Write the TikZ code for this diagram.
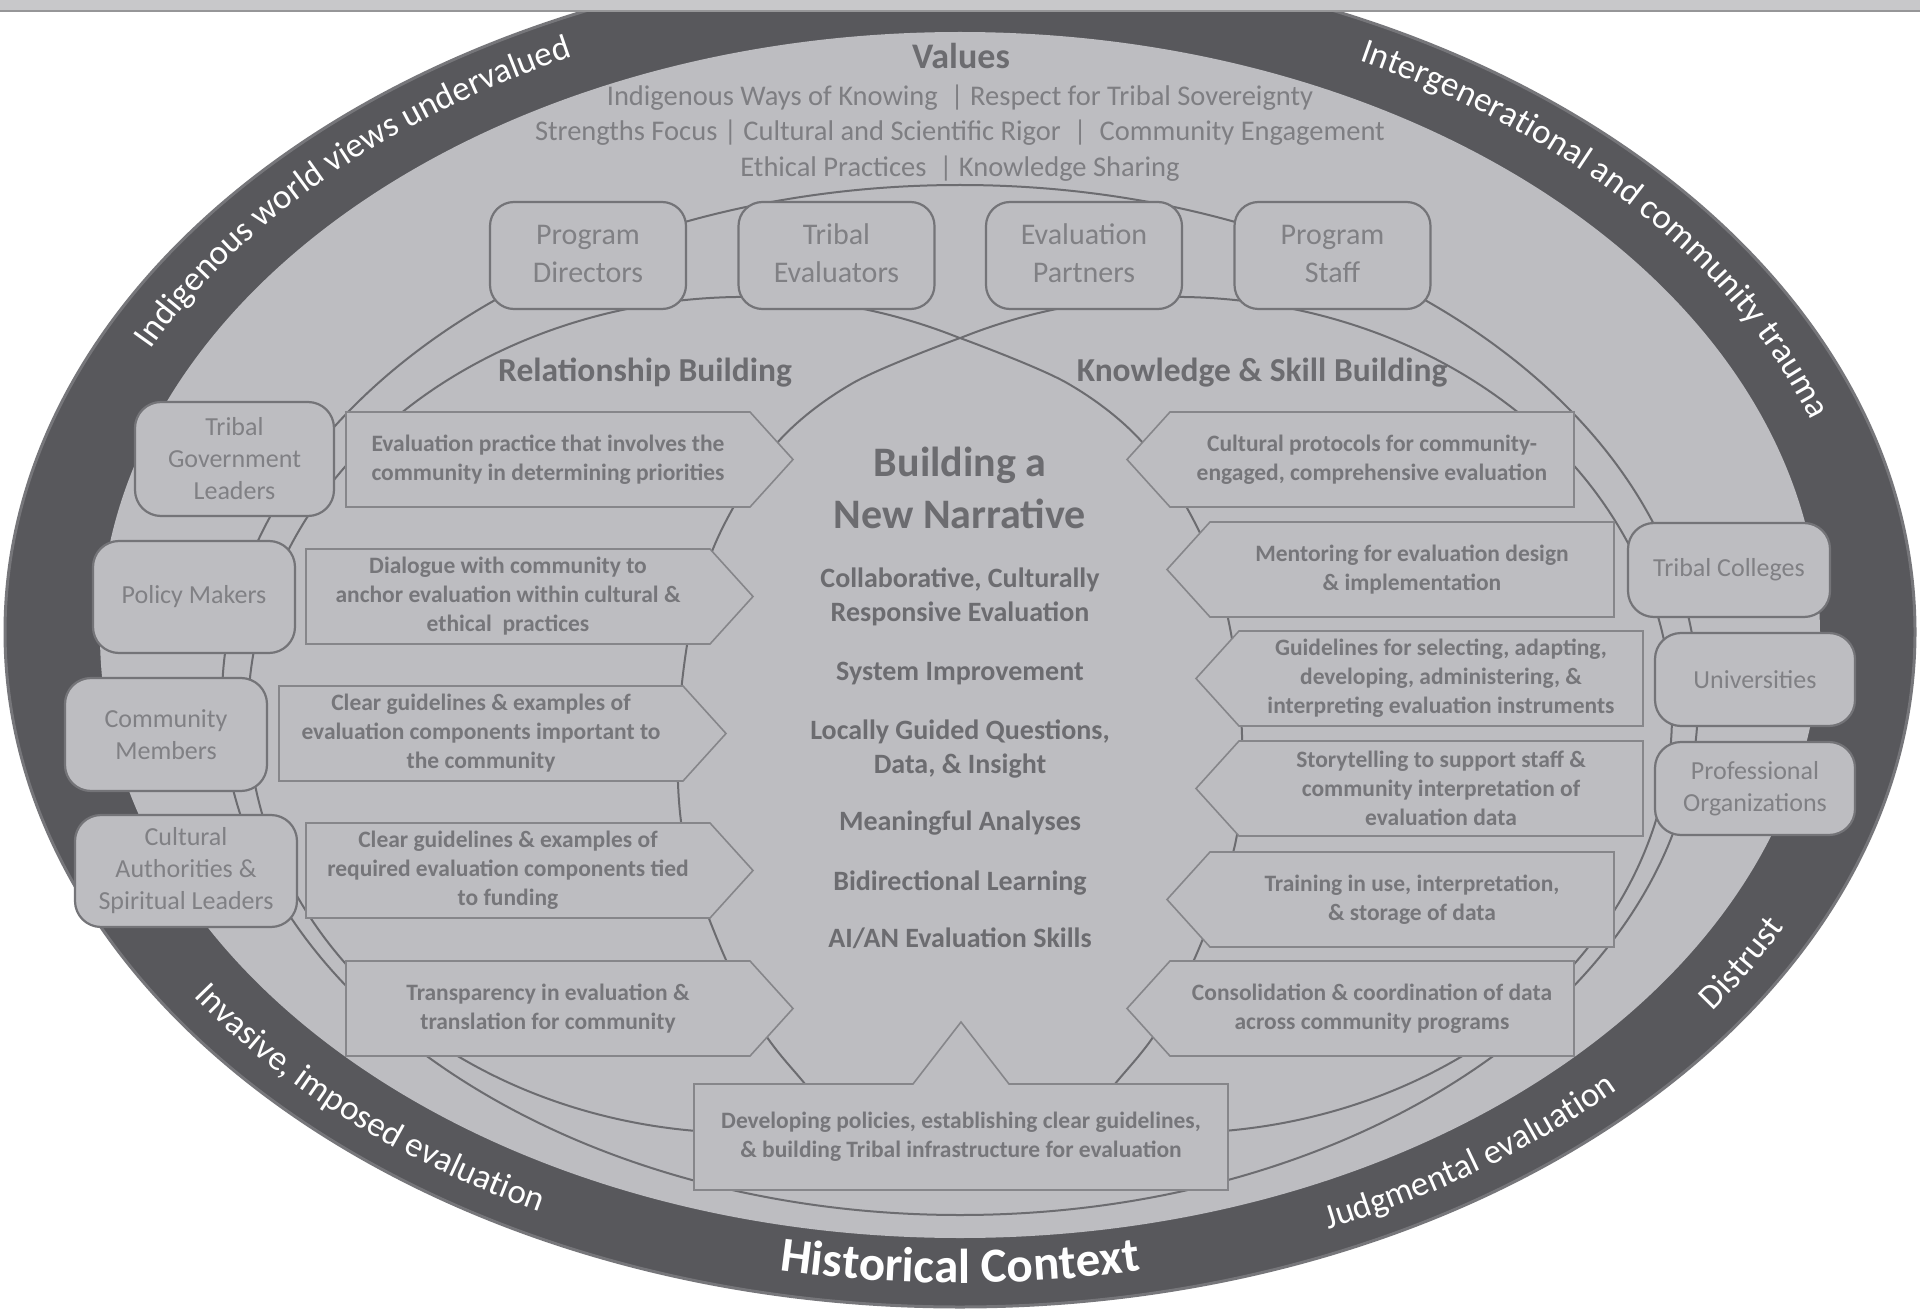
\documentclass[tikz,border=0pt]{standalone}
\usepackage{fontspec}
\setmainfont{Carlito}
\usetikzlibrary{decorations.text}
\definecolor{ringdark}{RGB}{88,88,92}
\definecolor{ringrim}{RGB}{118,118,122}
\definecolor{lightfill}{RGB}{189,189,193}
\definecolor{ringlinecol}{RGB}{108,108,112}
\definecolor{boxline}{RGB}{116,116,120}
\definecolor{aboxline}{RGB}{134,134,138}
\definecolor{stktext}{RGB}{128,128,132}
\definecolor{arrtext}{RGB}{118,118,122}
\definecolor{ctext}{RGB}{108,108,112}
\definecolor{valtext}{RGB}{126,126,130}
\definecolor{stripfill}{RGB}{200,200,202}
\definecolor{stripline}{RGB}{150,150,152}
\newcommand\ringfont{\fontsize{35}{42}\selectfont}
\newcommand\histfont{\fontsize{49}{56}\selectfont\bfseries}
\newcommand\stkfont{\fontsize{26}{32}\selectfont}
\newcommand\topstkfont{\fontsize{30}{38}\selectfont}
\newcommand\arrfont{\fontsize{23.5}{29}\selectfont\bfseries}
\newcommand\headfont{\fontsize{33.5}{40}\selectfont\bfseries}
\newcommand\bigfont{\fontsize{42}{52}\selectfont\bfseries}
\newcommand\itemfont{\fontsize{28}{34.5}\selectfont\bfseries}
\newcommand\valtitlefont{\fontsize{36}{42}\selectfont\bfseries}
\newcommand\valfont{\fontsize{28.5}{35}\selectfont}
\newcommand\boxRight[4]{%
  \draw[abox] (#2,#3) -- ++(404,0) -- ++(43,47.5) -- ++(-43,47.5) -- ++(-404,0) -- cycle;
  \node[atext] (#1) at (#2+202,#3+47.5) {#4};}
\newcommand\boxLeft[4]{%
  \draw[abox] (#2,#3+47.5) -- ++(43,-47.5) -- ++(404,0) -- ++(0,95) -- ++(-404,0) -- cycle;
  \node[atext] (#1) at (#2+245,#3+47.5) {#4};}
\begin{document}
\begin{tikzpicture}[x=1pt,y=-1pt,
  ringpath/.style={draw=ringlinecol, line width=2pt},
  stake/.style={draw=boxline, line width=2.2pt, fill=lightfill, rounded corners=26pt, align=center, text=stktext, font=\stkfont, inner sep=0pt},
  topstake/.style={stake, font=\topstkfont, rounded corners=24pt, minimum width=196pt, minimum height=107pt},
  abox/.style={draw=aboxline, line width=1.6pt, fill=lightfill, line join=miter},
  atext/.style={align=center, text=arrtext, font=\arrfont, inner sep=0pt},
  ctr/.style={anchor=base, text=ctext, inner sep=0pt}
]
\useasboundingbox (0,0) rectangle (1920,1313);
\fill[white] (0,0) rectangle (1920,1313);
% historical context ring
\draw[fill=ringdark, draw=ringrim, line width=3pt] (960,632) ellipse[x radius=955pt, y radius=675pt];
\fill[lightfill] (960,635) ellipse[x radius=860pt, y radius=603pt];
% texts on the ring
\path[decorate, decoration={text along path, text align=center, text color=white,
  text={|\ringfont|Indigenous world views undervalued}}]
  (960,633) ++(166.5:903pt and 638pt) arc[start angle=166.5, end angle=105.5, x radius=903pt, y radius=638pt];
\path[decorate, decoration={text along path, text align=center, text color=white,
  text={|\ringfont|Intergenerational and community trauma}}]
  (960,633) ++(72:903pt and 638pt) arc[start angle=72, end angle=8.6, x radius=903pt, y radius=638pt];
\path[decorate, decoration={text along path, text align=center, text color=white,
  text={|\ringfont|Invasive, imposed evaluation}}]
  (960,633) ++(203.5:925pt and 650pt) arc[start angle=203.5, end angle=251.5, x radius=925pt, y radius=650pt];
\path[decorate, decoration={text along path, text align=center, text color=white,
  text={|\histfont|Historical Context}}]
  (960,633) ++(250:925pt and 650pt) arc[start angle=250, end angle=290, x radius=925pt, y radius=650pt];
\path[decorate, decoration={text along path, text align=center, text color=white,
  text={|\ringfont|Judgmental evaluation}}]
  (960,633) ++(284.5:925pt and 650pt) arc[start angle=284.5, end angle=325.8, x radius=925pt, y radius=650pt];
\path[decorate, decoration={text along path, text align=center, text color=white,
  text={|\ringfont|Distrust}}]
  (960,633) ++(319:925pt and 650pt) arc[start angle=319, end angle=339, x radius=925pt, y radius=650pt];
% values
\node[anchor=base, text=ctext, font=\valtitlefont, inner sep=0pt] (valtitle) at (961,68.5) {Values};
\node[anchor=base, text=valtext, font=\valfont, inner sep=0pt] (val1) at (960,106) {Indigenous Ways of Knowing~ | Respect for Tribal Sovereignty};
\node[anchor=base, text=valtext, font=\valfont, inner sep=0pt] (val2) at (960,141) {Strengths Focus | Cultural and Scientific Rigor~ |~ Community Engagement};
\node[anchor=base, text=valtext, font=\valfont, inner sep=0pt] (val3) at (960,177) {Ethical Practices~ | Knowledge Sharing};
% ring lines
\draw[ringpath] (960,700) ellipse[x radius=738pt, y radius=515pt];
\draw[ringpath] (745,715) ++(64.4:497pt and 418pt) arc[start angle=64.4, end angle=265, x radius=497pt, y radius=418pt];
\draw[ringpath] (1175,715) ++(115.6:497pt and 418pt) arc[start angle=115.6, end angle=-85, x radius=497pt, y radius=418pt];
\draw[ringpath] plot[smooth, tension=0.55] coordinates {(960,338) (1067,383) (1143,443) (1200,533) (1229,623) (1242,735) (1236,840) (1200,946) (1157,1031) (1115,1084) (1100,1105)};
\draw[ringpath] plot[smooth, tension=0.55] coordinates {(960,338) (853,383) (777,443) (720,533) (691,623) (678,735) (684,840) (720,946) (763,1031) (805,1084) (820,1105)};
% headings
\node[anchor=base, text=ctext, font=\headfont, inner sep=0pt] (relb) at (645,382) {Relationship Building};
\node[anchor=base, text=ctext, font=\headfont, inner sep=0pt] (ksb) at (1262,382) {Knowledge \& Skill Building};
% arrow boxes, left
\boxRight{l1}{346}{412}{Evaluation practice that involves the\\community in determining priorities}
\boxRight{l2}{306}{549}{Dialogue with community to\\anchor evaluation within cultural \&\\ethical~ practices}
\boxRight{l3}{279}{686}{Clear guidelines \& examples of\\evaluation components important to\\the community}
\boxRight{l4}{306}{823}{Clear guidelines \& examples of\\required evaluation components tied\\to funding}
\boxRight{l5}{346}{961}{Transparency in evaluation \&\\translation for community}
% arrow boxes, right
\boxLeft{r1}{1127}{412}{Cultural protocols for community-\\engaged, comprehensive evaluation}
\boxLeft{r2}{1167}{522}{Mentoring for evaluation design\\\& implementation}
\boxLeft{r3}{1196}{631}{Guidelines for selecting, adapting,\\developing, administering, \&\\interpreting evaluation instruments}
\boxLeft{r4}{1196}{741}{Storytelling to support staff \&\\community interpretation of\\evaluation data}
\boxLeft{r5}{1167}{852}{Training in use, interpretation,\\\& storage of data}
\boxLeft{r6}{1127}{961}{Consolidation \& coordination of data\\across community programs}
% bottom box
\draw[abox] (694,1084) -- (913,1084) -- (961,1022) -- (1009,1084) -- (1228,1084) -- (1228,1190) -- (694,1190) -- cycle;
\node[atext] (dev) at (961,1137) {Developing policies, establishing clear guidelines,\\\& building Tribal infrastructure for evaluation};
% central narrative
\node[ctr, font=\bigfont] (bt1) at (960,476) {Building a};
\node[ctr, font=\bigfont] (bt2) at (960,528) {New Narrative};
\node[ctr, font=\itemfont] (c1) at (960,587) {Collaborative, Culturally};
\node[ctr, font=\itemfont] (c1b) at (960,621) {Responsive Evaluation};
\node[ctr, font=\itemfont] (c2) at (960,680) {System Improvement};
\node[ctr, font=\itemfont] (c3) at (960,739) {Locally Guided Questions,};
\node[ctr, font=\itemfont] (c3b) at (960,773) {Data, \& Insight};
\node[ctr, font=\itemfont] (c4) at (960,830) {Meaningful Analyses};
\node[ctr, font=\itemfont] (c5) at (960,890) {Bidirectional Learning};
\node[ctr, font=\itemfont] (c6) at (960,947) {AI/AN Evaluation Skills};
% stakeholders
\node[topstake] (pd) at (588,255.5) {Program\\Directors\rule[-4pt]{0pt}{0pt}};
\node[topstake] (te) at (836.5,255.5) {Tribal\\Evaluators\rule[-4pt]{0pt}{0pt}};
\node[topstake] (ep) at (1084,255.5) {Evaluation\\Partners\rule[-4pt]{0pt}{0pt}};
\node[topstake] (ps) at (1332.5,255.5) {Program\\Staff\rule[-4pt]{0pt}{0pt}};
\node[stake, minimum width=199pt, minimum height=114pt] (tgl) at (234.5,459) {Tribal\\Government\\Leaders};
\node[stake, minimum width=202pt, minimum height=112pt] (pm) at (194,597) {Policy Makers};
\node[stake, minimum width=202pt, minimum height=113pt] (cm) at (166,734.5) {Community\\Members};
\node[stake, minimum width=222pt, minimum height=112pt] (ca) at (186,871) {Cultural\\Authorities \&\\Spiritual Leaders};
\node[stake, minimum width=202pt, minimum height=94pt] (tc) at (1729,570) {Tribal Colleges};
\node[stake, minimum width=200pt, minimum height=93pt] (un) at (1755,679.5) {Universities};
\node[stake, minimum width=200pt, minimum height=93pt] (po) at (1755,788.5) {Professional\\Organizations};
% top strip
\fill[stripfill] (0,0) rectangle (1920,10);
\draw[stripline, line width=2pt] (0,11) -- (1920,11);
\end{tikzpicture}
\end{document}
